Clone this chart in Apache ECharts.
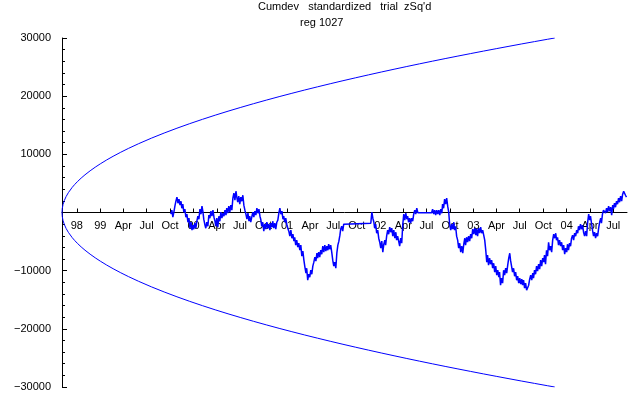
<!DOCTYPE html>
<html>
<head>
<meta charset="utf-8">
<script src="https://cdn.jsdelivr.net/npm/echarts@6/dist/echarts.min.js"></script>
<style>html,body{margin:0;padding:0;background:#fff;}#c{width:640px;height:395px;}</style>
</head>
<body>
<div id="c"></div>
<script>
// x values: days since 1998-08-04
const titleLine1 = "Cumdev   standardized   trial  zSq'd";
const titleLine2 = "reg 1027";

const tickDays = [58,150,240,331,423,515,606,697,789,881,971,1062,1154,1246,1336,1427,1519,1611,1701,1792,1884,1976,2067,2158];
const tickLabels = ["98","99","Apr","Jul","Oct","00","Apr","Jul","Oct","01","Apr","Jul","Oct","02","Apr","Jul","Oct","03","Apr","Jul","Oct","04","Apr","Jul"];

const envDays  = [0,1,2,4,6,9,12,16,20,25,30,40,50,60,75,90,110,130,150,175,200,230,260,300,350,400,450,500,550,600,650,700,750,800,850,900,950,1000,1050,1100,1150,1200,1250,1300,1350,1400,1450,1500,1550,1600,1650,1700,1750,1800,1850,1900,1929];
const envUpper = [0,683,966,1366,1673,2049,2366,2732,3055,3416,3741,4320,4830,5291,5916,6481,7164,7789,8366,9037,9661,10360,11015,11832,12780,13662,14491,15275,16020,16733,17416,18073,18708,19321,19916,20493,21055,21602,22135,22656,23165,23663,24151,24630,25099,25560,26012,26457,26894,27324,27748,28165,28576,28982,29381,29776,30000];
const envLower = [0,-683,-966,-1366,-1673,-2049,-2366,-2732,-3055,-3416,-3741,-4320,-4830,-5291,-5916,-6481,-7164,-7789,-8366,-9037,-9661,-10360,-11015,-11832,-12780,-13662,-14491,-15275,-16020,-16733,-17416,-18073,-18708,-19321,-19916,-20493,-21055,-21602,-22135,-22656,-23165,-23663,-24151,-24630,-25099,-25560,-26012,-26457,-26894,-27324,-27748,-28165,-28576,-28982,-29381,-29776,-30000];

const walk = [[426,-290],[430,400],[434,-810],[438,50],[442,1080],[446,1940],[450,2630],[454,1600],[458,2290],[462,1260],[466,1940],[469,740],[473,1430],[477,50],[481,570],[485,-810],[489,-290],[493,-1670],[497,-980],[501,-2700],[505,-1670],[509,-3040],[512,-2180],[516,-2870],[520,-1840],[524,-2700],[528,-1500],[532,-640],[536,-1150],[540,570],[544,-290],[548,1080],[552,50],[555,-1150],[559,-2010],[563,-2700],[567,-1670],[571,-2360],[575,-460],[579,-980],[583,220],[587,-640],[591,400],[595,-810],[599,-1500],[602,-2360],[606,-980],[610,-2530],[614,-640],[618,-1500],[622,50],[626,-980],[630,-120],[634,-640],[638,400],[642,-460],[645,740],[649,-120],[653,1080],[657,50],[661,1260],[665,400],[669,2460],[673,3320],[677,2110],[681,3660],[685,2460],[688,1770],[692,2800],[696,1430],[700,2630],[704,1940],[708,2970],[712,1260],[716,400],[720,-290],[724,-1150],[728,-120],[732,-1500],[735,-640],[739,-1670],[743,-810],[747,50],[751,-810],[755,220],[759,-460],[763,740],[767,-120],[771,570],[775,-640],[778,-1150],[782,-2360],[786,-1670],[790,-3210],[794,-2010],[798,-2870],[802,-1670],[806,-2700],[810,-2010],[814,-3040],[818,-1840],[822,-2530],[825,-1500],[829,-2700],[833,-1840],[837,-2870],[841,-1670],[845,-1320],[849,-120],[853,740],[857,-290],[861,220],[865,-1150],[868,-640],[872,-1670],[876,-980],[880,-2010],[884,-2700],[888,-3210],[892,-4070],[896,-3040],[900,-4420],[904,-3730],[908,-4930],[911,-4250],[915,-5620],[919,-4760],[923,-5960],[927,-5280],[931,-6480],[935,-5620],[939,-7510],[943,-6650],[947,-8200],[951,-9400],[955,-10430],[958,-9580],[962,-11640],[966,-10610],[970,-11120],[974,-9920],[978,-10610],[982,-9230],[986,-8540],[990,-7680],[994,-8370],[998,-7000],[1001,-7860],[1005,-6820],[1009,-7680],[1013,-6480],[1017,-7170],[1021,-5790],[1025,-6820],[1029,-5620],[1033,-6650],[1037,-5790],[1041,-6480],[1044,-5450],[1048,-6310],[1052,-5620],[1056,-6820],[1060,-8200],[1064,-9230],[1068,-8540],[1072,-9580],[1076,-7000],[1080,-5620],[1084,-4930],[1088,-3900],[1091,-2870],[1095,-2360],[1099,-3210],[1103,-2010],[1107,-1840],[1209,-1840],[1213,50],[1217,-980],[1221,-1670],[1224,-2700],[1228,-2010],[1232,-3560],[1236,-3040],[1240,-4420],[1244,-5110],[1248,-6140],[1252,-4930],[1256,-6820],[1260,-5450],[1264,-4760],[1267,-5620],[1271,-4070],[1275,-3040],[1279,-3730],[1283,-2530],[1287,-3390],[1291,-2700],[1295,-4070],[1299,-3040],[1303,-4420],[1307,-3390],[1310,-4760],[1314,-4070],[1318,-4930],[1322,-5790],[1326,-4420],[1330,-5280],[1334,-2180],[1338,-290],[1342,-1320],[1346,-120],[1350,-1150],[1353,-640],[1357,-1670],[1361,-980],[1365,-1840],[1369,-980],[1373,-1500],[1377,-290],[1381,400],[1385,-290],[1389,740],[1393,-30],[1447,-30],[1451,570],[1455,-290],[1459,400],[1463,-460],[1467,400],[1471,-290],[1475,400],[1479,-460],[1483,570],[1487,-120],[1490,1430],[1494,740],[1498,2290],[1502,1430],[1506,2460],[1510,1080],[1514,50],[1518,-2180],[1522,-3040],[1526,-2010],[1530,-2870],[1534,-1670],[1537,-3040],[1541,-2360],[1545,-4070],[1549,-4760],[1553,-6140],[1557,-5280],[1561,-6820],[1565,-5790],[1569,-7000],[1573,-5450],[1577,-4420],[1580,-5620],[1584,-4250],[1588,-5110],[1592,-4070],[1596,-4930],[1600,-3730],[1604,-4420],[1608,-2870],[1612,-3730],[1616,-2700],[1620,-3900],[1623,-2870],[1627,-4070],[1631,-2700],[1635,-3560],[1639,-2530],[1643,-3560],[1647,-3040],[1651,-3900],[1655,-4760],[1659,-6480],[1663,-8540],[1666,-7340],[1670,-9060],[1674,-7860],[1678,-8890],[1682,-8200],[1686,-9580],[1690,-8720],[1694,-10260],[1698,-9230],[1702,-10780],[1706,-9920],[1710,-11120],[1713,-10260],[1717,-12500],[1721,-11290],[1725,-12150],[1729,-9920],[1733,-10780],[1737,-9580],[1741,-10430],[1745,-9060],[1749,-7860],[1753,-7000],[1756,-8200],[1760,-9230],[1764,-10260],[1768,-9580],[1772,-10950],[1776,-10260],[1780,-11640],[1784,-10950],[1788,-12150],[1792,-11290],[1796,-12330],[1800,-11470],[1803,-12500],[1807,-11640],[1811,-13010],[1815,-12150],[1819,-13360],[1823,-13700],[1827,-12500],[1831,-11470],[1835,-10780],[1839,-11640],[1843,-10430],[1846,-11290],[1850,-9920],[1854,-10610],[1858,-9230],[1862,-10090],[1866,-8890],[1870,-9750],[1874,-8200],[1878,-9230],[1882,-7860],[1886,-8540],[1889,-7340],[1893,-8890],[1897,-6480],[1901,-7510],[1905,-5110],[1909,-6480],[1913,-5790],[1917,-6820],[1921,-4760],[1925,-3730],[1929,-4420],[1933,-3560],[1936,-4760],[1940,-4250],[1944,-5620],[1948,-4760],[1952,-5790],[1956,-5110],[1960,-6480],[1964,-5620],[1968,-7170],[1972,-6140],[1976,-6820],[1979,-5450],[1983,-6480],[1987,-5280],[1991,-5790],[1995,-4420],[1999,-3900],[2003,-4760],[2007,-3560],[2011,-4070],[2015,-3040],[2019,-3560],[2022,-2360],[2026,-3040],[2030,-2010],[2034,-2870],[2038,-2180],[2042,-3390],[2046,-4070],[2050,-3210],[2054,-4070],[2058,-1670],[2062,-290],[2066,-1320],[2069,-640],[2073,-1840],[2077,-3040],[2081,-4070],[2085,-3390],[2089,-4420],[2093,-3560],[2097,-4070],[2101,-2700],[2105,-1670],[2109,-980],[2112,-1840],[2116,-290],[2120,400],[2124,570],[2128,-120],[2132,740],[2136,50],[2140,1080],[2144,220],[2148,910],[2152,-460],[2156,1260],[2159,570],[2163,1600],[2167,910],[2171,1940],[2175,1430],[2179,2460],[2183,1770],[2187,2800],[2191,1940],[2195,3150],[2199,3660],[2202,4000],[2206,2970],[2210,2630]];

const FONT = "'Liberation Sans', Arial, sans-serif";
const X_MAX = 2212;
const chart = echarts.init(document.getElementById('c'), null, {renderer: 'canvas'});
chart.setOption({
  animation: false,
  backgroundColor: '#ffffff',
  grid: [
    {left: 62, right: 13, top: 38, bottom: 8, containLabel: false, outerBoundsMode: 'none'},
    {left: 62, right: 13, top: 211.5, height: 1, containLabel: false, outerBoundsMode: 'none'}
  ],
  graphic: [
    {type: 'text', left: 258, top: 1, style: {text: titleLine1, font: '11px ' + FONT, fill: '#000'}},
    {type: 'text', left: 300, top: 17, style: {text: titleLine2, font: '11px ' + FONT, fill: '#000'}}
  ],
  xAxis: [
    {type: 'value', gridIndex: 0, min: 0, max: X_MAX, show: false},
    {
      type: 'value', gridIndex: 1, min: 0, max: X_MAX, position: 'bottom',
      axisLine: {show: true, onZero: false, lineStyle: {color: '#000', width: 1}},
      axisTick: {show: true, inside: true, length: 4, customValues: tickDays, lineStyle: {color: '#000'}},
      axisLabel: {
        customValues: tickDays, margin: 8, color: '#000', fontSize: 11, fontFamily: FONT,
        formatter: function (v) { const i = tickDays.indexOf(v); return i >= 0 ? tickLabels[i] : ''; }
      },
      splitLine: {show: false}
    }
  ],
  yAxis: [
    {
      type: 'value', gridIndex: 0, min: -30000, max: 30000, interval: 10000,
      axisLine: {show: true, onZero: false, lineStyle: {color: '#000', width: 1}},
      axisTick: {show: true, inside: true, length: 5, lineStyle: {color: '#000'}},
      minorTick: {show: true, splitNumber: 5, length: 3, lineStyle: {color: '#000'}},
      axisLabel: {
        margin: 11, color: '#000', fontSize: 11, fontFamily: FONT,
        formatter: function (v) { return v === 0 ? '' : String(v).replace('-', '\u2212'); }
      },
      splitLine: {show: false}
    },
    {type: 'value', gridIndex: 1, min: 0, max: 1, show: false}
  ],
  series: [
    {type: 'line', xAxisIndex: 0, yAxisIndex: 0, data: envDays.map((d, i) => [d, envUpper[i]]), showSymbol: false, symbol: 'none', lineStyle: {color: '#0000ff', width: 1}, silent: true, z: 3},
    {type: 'line', xAxisIndex: 0, yAxisIndex: 0, data: envDays.map((d, i) => [d, envLower[i]]), showSymbol: false, symbol: 'none', lineStyle: {color: '#0000ff', width: 1}, silent: true, z: 3},
    {type: 'line', xAxisIndex: 0, yAxisIndex: 0, data: walk, showSymbol: false, symbol: 'none', lineStyle: {color: '#0000ff', width: 1.5}, silent: true, z: 4}
  ]
});
</script>
</body>
</html>
